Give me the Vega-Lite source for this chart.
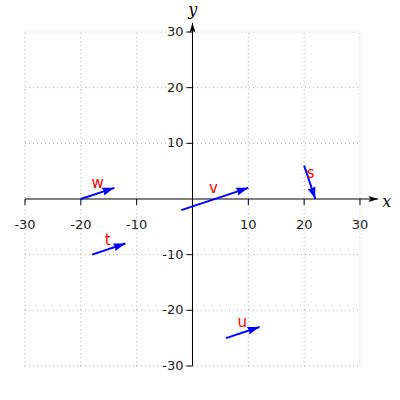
{
  "$schema": "https://vega.github.io/schema/vega-lite/v6.json",
  "width": 400,
  "height": 400,
  "autosize": {"type": "fit", "contains": "padding"},
  "padding": 0,
  "background": "white",
  "config": {"view": {"stroke": null}},
  "datasets": {
    "grid": [
      {"x": -30, "y": -30, "x2": -30, "y2": 30},
      {"x": -20, "y": -30, "x2": -20, "y2": 30},
      {"x": -10, "y": -30, "x2": -10, "y2": 30},
      {"x": 10, "y": -30, "x2": 10, "y2": 30},
      {"x": 20, "y": -30, "x2": 20, "y2": 30},
      {"x": 30, "y": -30, "x2": 30, "y2": 30},
      {"x": -30, "y": -30, "x2": 30, "y2": -30},
      {"x": -30, "y": -20, "x2": 30, "y2": -20},
      {"x": -30, "y": -10, "x2": 30, "y2": -10},
      {"x": -30, "y": 10, "x2": 30, "y2": 10},
      {"x": -30, "y": 20, "x2": 30, "y2": 20},
      {"x": -30, "y": 30, "x2": 30, "y2": 30}
    ],
    "xticks": [
      {"x": -30, "y": 0, "label": "-30"},
      {"x": -20, "y": 0, "label": "-20"},
      {"x": -10, "y": 0, "label": "-10"},
      {"x": 10, "y": 0, "label": "10"},
      {"x": 20, "y": 0, "label": "20"},
      {"x": 30, "y": 0, "label": "30"}
    ],
    "yticks": [
      {"x": 0, "y": -30, "label": "-30"},
      {"x": 0, "y": -20, "label": "-20"},
      {"x": 0, "y": -10, "label": "-10"},
      {"x": 0, "y": 10, "label": "10"},
      {"x": 0, "y": 20, "label": "20"},
      {"x": 0, "y": 30, "label": "30"}
    ],
    "axes": [
      {"axis": "x", "x": -30, "y": 0, "x2": 33.27, "y2": 0},
      {"axis": "y", "x": 0, "y": -30, "x2": 0, "y2": 31.67}
    ],
    "axisnames": [
      {"name": "x", "x": 34.8, "y": -1.4},
      {"name": "y", "x": 0.03, "y": 33.05}
    ],
    "vectors": [
      {"name": "s", "x": 20, "y": 6, "x2": 22, "y2": 0, "lx": 21.17, "ly": 3.83},
      {"name": "t", "x": -18, "y": -10, "x2": -12, "y2": -8, "lx": -15.2, "ly": -8.26},
      {"name": "u", "x": 6, "y": -25, "x2": 12, "y2": -23, "lx": 8.93, "ly": -23.05},
      {"name": "v", "x": -2, "y": -2, "x2": 10, "y2": 2, "lx": 3.73, "ly": 1.02},
      {"name": "w", "x": -20, "y": 0, "x2": -14, "y2": 2, "lx": -17, "ly": 1.92}
    ]
  },
  "encoding": {
    "x": {"field": "x", "type": "quantitative", "scale": {"domain": [-34.48, 37.17], "nice": false, "zero": false}, "axis": null},
    "y": {"field": "y", "type": "quantitative", "scale": {"domain": [-36.11, 35.75], "nice": false, "zero": false}, "axis": null}
  },
  "layer": [
    {
      "data": {"name": "grid"},
      "mark": {"type": "rule", "stroke": "#b0b0b0", "strokeWidth": 1, "strokeDash": [1, 3]},
      "encoding": {"x2": {"field": "x2"}, "y2": {"field": "y2"}}
    },
    {
      "data": {"name": "axes"},
      "mark": {"type": "rule", "stroke": "#000000", "strokeWidth": 1},
      "encoding": {"x2": {"field": "x2"}, "y2": {"field": "y2"}}
    },
    {
      "data": {"name": "axes"},
      "mark": {"type": "point", "filled": true, "fill": "#000000", "strokeWidth": 0, "opacity": 1, "size": 100},
      "encoding": {
        "x": {"field": "x2", "type": "quantitative", "scale": {"domain": [-34.48, 37.17], "nice": false, "zero": false}, "axis": null},
        "y": {"field": "y2", "type": "quantitative", "scale": {"domain": [-36.11, 35.75], "nice": false, "zero": false}, "axis": null},
        "shape": {"field": "axis", "type": "nominal", "scale": {"domain": ["x", "y"], "range": ["M0,0L-2,-0.6L-1.5,0L-2,0.6Z", "M0,0L-0.6,2L0,1.5L0.6,2Z"]}, "legend": null}
      }
    },
    {
      "data": {"name": "xticks"},
      "mark": {"type": "point", "shape": "M0,0L0,1", "filled": false, "fill": null, "stroke": "#000000", "strokeWidth": 1, "opacity": 1, "size": 144}
    },
    {
      "data": {"name": "xticks"},
      "mark": {"type": "text", "font": "DejaVu Sans", "fontSize": 13, "fill": "#222222", "align": "center", "baseline": "middle", "dy": 26},
      "encoding": {"text": {"field": "label"}}
    },
    {
      "data": {"name": "yticks"},
      "mark": {"type": "point", "shape": "M0,0L-1,0", "filled": false, "fill": null, "stroke": "#000000", "strokeWidth": 1, "opacity": 1, "size": 144}
    },
    {
      "data": {"name": "yticks"},
      "mark": {"type": "text", "font": "DejaVu Sans", "fontSize": 13, "fill": "#222222", "align": "right", "baseline": "middle", "dx": -9},
      "encoding": {"text": {"field": "label"}}
    },
    {
      "data": {"name": "axisnames"},
      "mark": {"type": "text", "font": "DejaVu Serif", "fontStyle": "italic", "fontSize": 16, "fill": "#000000", "align": "center", "baseline": "alphabetic"},
      "encoding": {"text": {"field": "name"}}
    },
    {
      "data": {"name": "vectors"},
      "mark": {"type": "rule", "stroke": "#0000ff", "strokeWidth": 2},
      "encoding": {"x2": {"field": "x2"}, "y2": {"field": "y2"}}
    },
    {
      "data": {"name": "vectors"},
      "transform": [
        {"calculate": "atan2((datum.x2 - datum.x) * 5.583, (datum.y2 - datum.y) * 5.567) * 180 / PI", "as": "angle"}
      ],
      "mark": {"type": "point", "shape": "M0,0L-0.8,2.4L0,2.16L0.8,2.4Z", "filled": true, "fill": "#0000ff", "strokeWidth": 0, "opacity": 1, "size": 100},
      "encoding": {
        "x": {"field": "x2", "type": "quantitative", "scale": {"domain": [-34.48, 37.17], "nice": false, "zero": false}, "axis": null},
        "y": {"field": "y2", "type": "quantitative", "scale": {"domain": [-36.11, 35.75], "nice": false, "zero": false}, "axis": null},
        "angle": {"field": "angle", "type": "quantitative", "scale": null}
      }
    },
    {
      "data": {"name": "vectors"},
      "mark": {"type": "text", "font": "DejaVu Sans", "fontSize": 15, "fill": "#ff0000", "align": "center", "baseline": "alphabetic"},
      "encoding": {
        "x": {"field": "lx", "type": "quantitative", "scale": {"domain": [-34.48, 37.17], "nice": false, "zero": false}, "axis": null},
        "y": {"field": "ly", "type": "quantitative", "scale": {"domain": [-36.11, 35.75], "nice": false, "zero": false}, "axis": null},
        "text": {"field": "name"}
      }
    }
  ]
}
